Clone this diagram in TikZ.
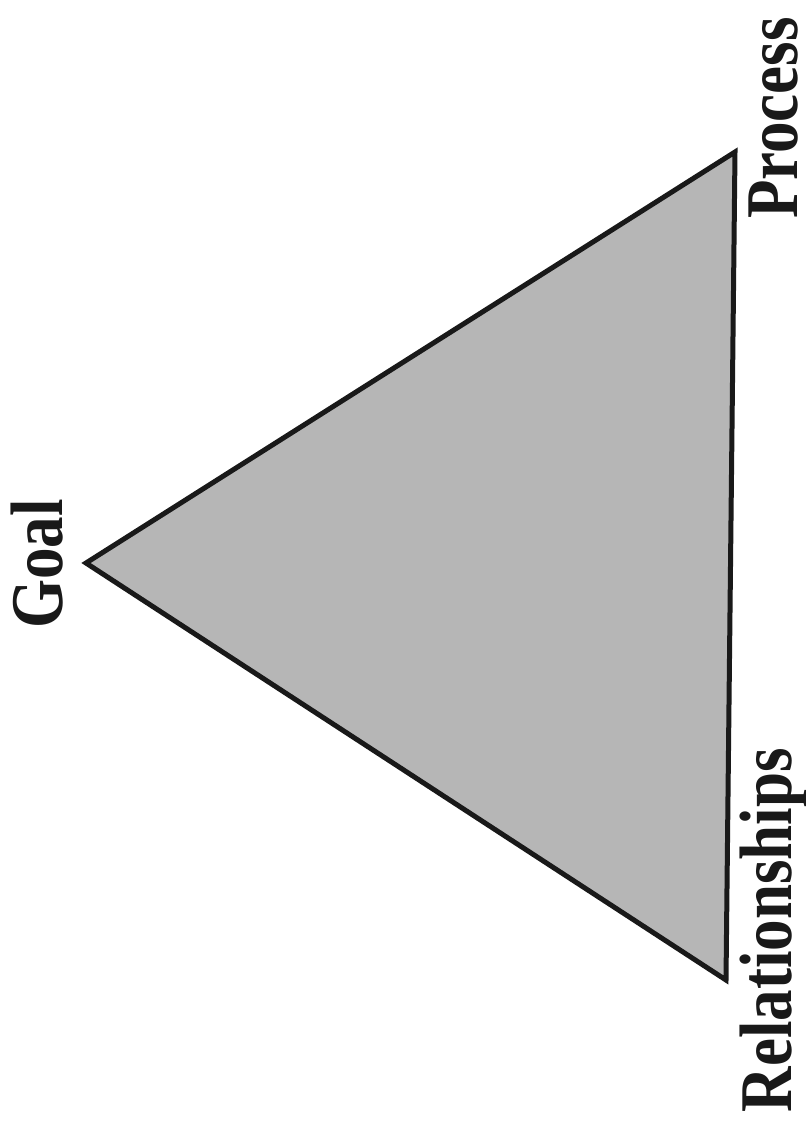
\documentclass[tikz,border=0pt]{standalone}
\usepackage{fontspec}
\setmainfont{Liberation Serif}
\usepackage{tikz}
\usetikzlibrary{positioning,calc}
\definecolor{TriGray}{RGB}{182,182,182}
\definecolor{Ink}{RGB}{25,25,25}
\newcommand{\tallword}[1]{\scalebox{1}[1.18]{#1}}
\tikzset{
  cornerlabel/.style={rotate=90,anchor=base,inner sep=0pt,text=Ink,font=\fontsize{63}{70}\selectfont\bfseries},
  tri/.style={draw=Ink,fill=TriGray,line width=5pt,line join=miter}
}

\begin{document}
\begin{tikzpicture}[x=1pt,y=-1pt]
\useasboundingbox (0,0) rectangle (806,1136);
\coordinate (goal) at (86,563);
\coordinate (process) at (735,152);
\coordinate (relationships) at (726,980);
\draw[tri] (goal) -- (process) -- (relationships) -- cycle;
\node[cornerlabel] (goallabel) at (62,564) {\tallword{Goal}};
\node[cornerlabel] (processlabel) at (797,118) {\tallword{Process}};
\node[cornerlabel] (relationshipslabel) at (791,930) {\tallword{Relationships}};
\end{tikzpicture}
\end{document}
